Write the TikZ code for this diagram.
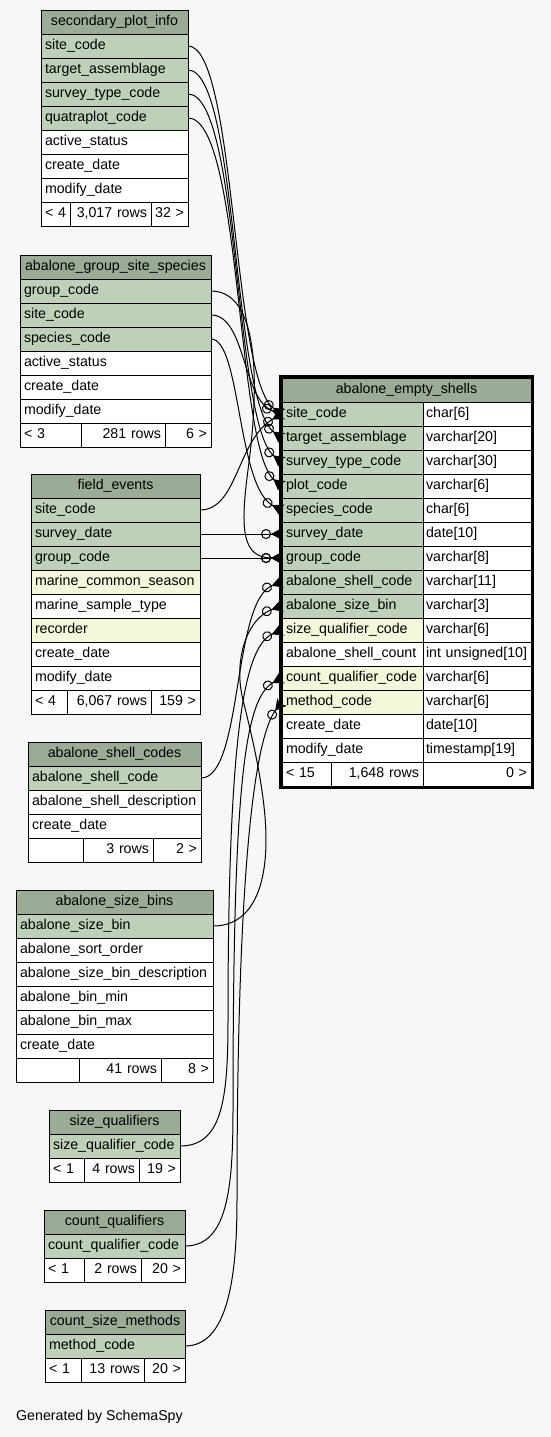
\documentclass[tikz,border=0pt]{standalone}
\usepackage{fontspec}
\setmainfont{Liberation Sans}
\usetikzlibrary{arrows.meta}

\definecolor{fondo}{HTML}{F7F7F7}
\definecolor{verdecab}{HTML}{9BAB96}
\definecolor{verdeclave}{HTML}{BED1B8}
\definecolor{amarillo}{HTML}{F4F7DA}

\begin{document}
\begin{tikzpicture}[
    x=1pt, y=-1pt,
    font=\fontsize{14.2}{17}\selectfont,
    celda/.style={draw=black, line width=0.8pt, anchor=north west, outer sep=0pt,
      inner xsep=4pt, inner ysep=0pt, minimum height=24pt,
      text height=10pt, text depth=3pt, align=left},
    cab/.style={celda, fill=verdecab, align=center},
    pk/.style={celda, fill=verdeclave},
    idx/.style={celda, fill=amarillo},
    col/.style={celda, fill=white},
    tipo/.style={col, inner xsep=3pt},
    pie/.style={celda, fill=white},
    pieder/.style={pie, align=right},
    rel/.style={line width=1pt,
      -{Circle[open, length=10pt, width=10pt] Stealth[reversed, length=11pt, width=12pt, inset=3pt]}}
  ]
  % 1 unidad = 1 px de la captura, y hacia abajo.
  \fill[fondo] (0,0) rectangle (551,1437);
  \useasboundingbox (0,0) rectangle (551,1437);

  % --- secondary_plot_info ---
  \node[cab, text width=139pt] (spi) at (41,10) {secondary\_plot\_info};
  \foreach \campo/\st [count=\i] in {site\_code/pk, target\_assemblage/pk,
      survey\_type\_code/pk, quatraplot\_code/pk, active\_status/col,
      create\_date/col, modify\_date/col}
    \node[\st, text width=139pt] (spi-\i) at (41,{10+24*\i}) {\campo};
  \node[pie,    text width=21pt] (spi-pa) at (41,202)  {< 4};
  \node[pieder, text width=73pt] (spi-pb) at (70,202)  {3,017 rows};
  \node[pieder, text width=29pt] (spi-pc) at (151,202) {32 >};

  % --- abalone_group_site_species ---
  \node[cab, text width=183pt] (agss) at (20,255) {abalone\_group\_site\_species};
  \foreach \campo/\st [count=\i] in {group\_code/pk, site\_code/pk,
      species\_code/pk, active\_status/col, create\_date/col, modify\_date/col}
    \node[\st, text width=183pt] (agss-\i) at (20,{255+24*\i}) {\campo};
  \node[pie,    text width=53pt] (agss-pa) at (20,423)  {< 3};
  \node[pieder, text width=76pt] (agss-pb) at (81,423)  {281 rows};
  \node[pieder, text width=38pt] (agss-pc) at (165,423) {6 >};

  % --- field_events ---
  \node[cab, text width=161pt] (fe) at (31,474) {field\_events};
  \foreach \campo/\st [count=\i] in {site\_code/pk, survey\_date/pk,
      group\_code/pk, marine\_common\_season/idx, marine\_sample\_type/col,
      recorder/idx, create\_date/col, modify\_date/col}
    \node[\st, text width=161pt] (fe-\i) at (31,{474+24*\i}) {\campo};
  \node[pie,    text width=28pt] (fe-pa) at (31,690)  {< 4};
  \node[pieder, text width=76pt] (fe-pb) at (67,690)  {6,067 rows};
  \node[pieder, text width=41pt] (fe-pc) at (151,690) {159 >};

  % --- abalone_shell_codes ---
  \node[cab, text width=165pt] (asc) at (28,742) {abalone\_shell\_codes};
  \foreach \campo/\st [count=\i] in {abalone\_shell\_code/pk,
      abalone\_shell\_description/col, create\_date/col}
    \node[\st, text width=165pt] (asc-\i) at (28,{742+24*\i}) {\campo};
  \node[pie,    text width=47pt] (asc-pa) at (28,838)  {};
  \node[pieder, text width=62pt] (asc-pb) at (83,838)  {3 rows};
  \node[pieder, text width=40pt] (asc-pc) at (153,838) {2 >};

  % --- abalone_size_bins ---
  \node[cab, text width=189pt] (asb) at (16,890) {abalone\_size\_bins};
  \foreach \campo/\st [count=\i] in {abalone\_size\_bin/pk,
      abalone\_sort\_order/col, abalone\_size\_bin\_description/col,
      abalone\_bin\_min/col, abalone\_bin\_max/col, create\_date/col}
    \node[\st, text width=189pt] (asb-\i) at (16,{890+24*\i}) {\campo};
  \node[pie,    text width=55pt] (asb-pa) at (16,1058)  {};
  \node[pieder, text width=74pt] (asb-pb) at (79,1058)  {41 rows};
  \node[pieder, text width=44pt] (asb-pc) at (161,1058) {8 >};

  % --- size_qualifiers ---
  \node[cab, text width=123pt] (sq) at (49,1110) {size\_qualifiers};
  \node[pk,  text width=123pt] (sq-1) at (49,1134) {size\_qualifier\_code};
  \node[pie,    text width=27pt] (sq-pa) at (49,1158)  {< 1};
  \node[pieder, text width=47pt] (sq-pb) at (84,1158)  {4 rows};
  \node[pieder, text width=33pt] (sq-pc) at (139,1158) {19 >};

  % --- count_qualifiers ---
  \node[cab, text width=133pt] (cq) at (44,1210) {count\_qualifiers};
  \node[pk,  text width=133pt] (cq-1) at (44,1234) {count\_qualifier\_code};
  \node[pie,    text width=32pt] (cq-pa) at (44,1258)  {< 1};
  \node[pieder, text width=49pt] (cq-pb) at (84,1258)  {2 rows};
  \node[pieder, text width=36pt] (cq-pc) at (141,1258) {20 >};

  % --- count_size_methods ---
  \node[cab, text width=132pt] (csm) at (45,1310) {count\_size\_methods};
  \node[pk,  text width=132pt] (csm-1) at (45,1334) {method\_code};
  \node[pie,    text width=28pt] (csm-pa) at (45,1358)  {< 1};
  \node[pieder, text width=55pt] (csm-pb) at (81,1358)  {13 rows};
  \node[pieder, text width=33pt] (csm-pc) at (144,1358) {20 >};

  % --- abalone_empty_shells (tabla central, borde grueso) ---
  \node[cab, text width=241pt] (aes) at (282,378) {abalone\_empty\_shells};
  \foreach \campo/\st/\dato [count=\i] in {site\_code/pk/char[6],
      target\_assemblage/pk/varchar[20], survey\_type\_code/pk/varchar[30],
      plot\_code/pk/varchar[6], species\_code/pk/char[6],
      survey\_date/pk/date[10], group\_code/pk/varchar[8],
      abalone\_shell\_code/pk/varchar[11], abalone\_size\_bin/pk/varchar[3],
      size\_qualifier\_code/idx/varchar[6],
      abalone\_shell\_count/col/int unsigned[10],
      count\_qualifier\_code/idx/varchar[6], method\_code/idx/varchar[6],
      create\_date/col/date[10], modify\_date/col/timestamp[19]}{
    \node[\st,  text width=133pt] (aes-\i)   at (282,{378+24*\i}) {\campo};
    \node[tipo, text width=102pt] (aes-\i-t) at (423,{378+24*\i}) {\dato};
  }
  \node[pie,    text width=41pt]  (aes-pa) at (282,762) {< 15};
  \node[pieder, text width=84pt]  (aes-pb) at (331,762) {1,648 rows};
  \node[pieder, text width=100pt] (aes-pc) at (423,762) {0 >};
  \draw[line width=3pt] ([shift={(-1.5,-1.5)}]aes.north west)
    rectangle ([shift={(1.5,1.5)}]aes-pc.south east);

  % --- relaciones: pata de gallo en abalone_empty_shells ---
  \draw[rel] (spi-1.east) .. controls +(48,0) and +(-50,-34) .. (aes-1.west);
  \draw[rel] (spi-2.east) .. controls +(50,0) and +(-50,-36) .. (aes-2.west);
  \draw[rel] (spi-3.east) .. controls +(52,0) and +(-48,-36) .. (aes-3.west);
  \draw[rel] (spi-4.east) .. controls +(54,0) and +(-46,-36) .. (aes-4.west);
  \draw[rel] (agss-1.east) .. controls +(55,0) and +(8,-60) .. (248,470)
    .. controls +(-8,60) and +(-40,0) .. (aes-7.west);
  \draw[rel] (agss-2.east) .. controls +(35,0) and +(-40,-14) .. (aes-1.west);
  \draw[rel] (agss-3.east) .. controls +(30,0) and +(-45,-22) .. (aes-5.west);
  \draw[rel] (fe-1.east) .. controls +(38,0) and +(-45,25) .. (aes-1.west);
  \draw[rel] (fe-2.east) -- (aes-6.west);
  \draw[rel] (fe-3.east) -- (aes-7.west);
  \draw[rel] (asc-1.east) .. controls +(42,0) and +(-50,18) .. (aes-8.west);
  \draw[rel] (asb-1.east) .. controls +(40,0) and +(0,45) .. (266,840)
    .. controls +(0,-45) and +(10,40) .. (243,700)
    .. controls +(-10,-40) and +(-35,12) .. (aes-9.west);
  \draw[rel] (sq-1.east) .. controls +(42,0) and +(0,80) .. (228,1020)
    .. controls +(0,-300) and +(-36,15) .. (aes-10.west);
  \draw[rel] (cq-1.east) .. controls +(42,0) and +(0,80) .. (233,1110)
    .. controls +(0,-320) and +(-38,20) .. (aes-12.west);
  \draw[rel] (csm-1.east) .. controls +(42,0) and +(0,80) .. (237,1200)
    .. controls +(0,-380) and +(-22,28) .. (aes-13.west);

  \node[anchor=west, inner sep=0pt] (firma) at (16,1417) {Generated by SchemaSpy};
\end{tikzpicture}
\end{document}
